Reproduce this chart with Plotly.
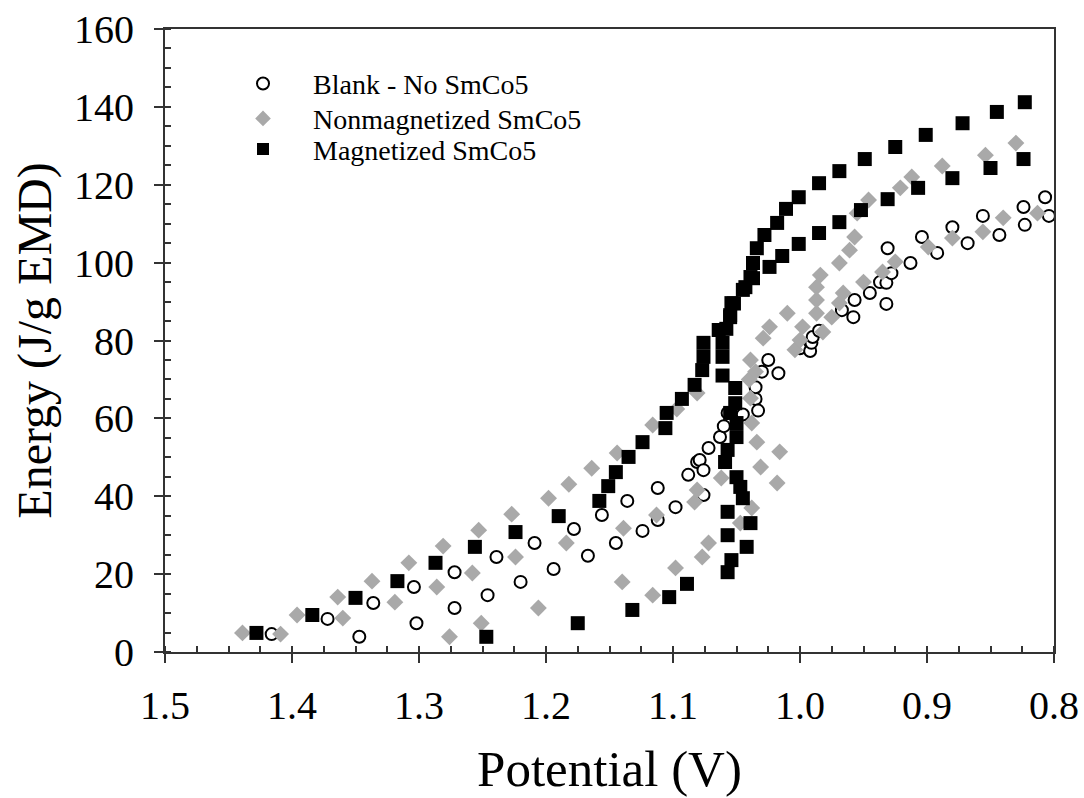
import plotly.graph_objects as go

# Blank - No SmCo5 (open circles)
blank_v = [1.416, 1.372, 1.347, 1.336, 1.304, 1.302, 1.272, 1.272, 1.246, 1.239,
           1.220, 1.209, 1.194, 1.178, 1.167, 1.156, 1.145, 1.136, 1.124, 1.112,
           1.112, 1.098, 1.088, 1.081, 1.079, 1.076, 1.076, 1.072, 1.063, 1.060,
           1.057, 1.045, 1.035, 1.035, 1.033, 1.030, 1.025, 1.017, 1.000, 0.992,
           0.991, 0.990, 0.985, 0.967, 0.958, 0.957, 0.945, 0.937, 0.932, 0.932,
           0.928, 0.931, 0.913, 0.904, 0.892, 0.880, 0.868, 0.856, 0.843, 0.824,
           0.823, 0.807, 0.804]
blank_e = [4.6, 8.5, 3.9, 12.6, 16.7, 7.4, 20.5, 11.3, 14.6, 24.4,
           18.0, 28.0, 21.3, 31.6, 24.7, 35.2, 28.0, 38.8, 31.1, 42.1,
           33.9, 37.2, 45.5, 48.8, 49.3, 46.7, 40.3, 52.4, 55.2, 58.0,
           61.4, 61.0, 65.0, 68.0, 62.0, 72.0, 75.0, 71.6, 78.0, 77.3,
           79.4, 80.9, 82.5, 87.8, 86.0, 90.4, 92.2, 95.0, 94.8, 89.4,
           97.3, 103.7, 99.9, 106.6, 102.5, 109.1, 105.0, 112.0, 107.1, 114.3,
           109.7, 116.8, 112.0]

# Nonmagnetized SmCo5 (grey diamonds)
nonmag_v = [1.439, 1.396, 1.364, 1.337, 1.308, 1.281, 1.253, 1.227, 1.198, 1.182,
            1.164, 1.144, 1.116, 1.097, 1.081,
            1.409, 1.360, 1.319, 1.286, 1.258, 1.224, 1.184, 1.139, 1.113, 1.083,
            1.081, 1.062,
            1.276, 1.251, 1.206, 1.140, 1.116, 1.098, 1.077, 1.072, 1.047, 1.038,
            1.031, 1.018, 1.016, 1.034, 1.038, 1.039, 1.040, 1.035, 1.039, 1.029,
            1.024, 1.010,
            0.987, 0.987, 0.987, 0.984, 0.969, 0.961, 0.957, 0.955, 0.946, 0.921,
            0.912, 0.888, 0.854, 0.830,
            1.004, 1.000, 0.998, 0.982, 0.975, 0.969, 0.966, 0.950, 0.935, 0.925,
            0.899, 0.880, 0.856, 0.840, 0.813]
nonmag_e = [4.9, 9.5, 14.1, 18.2, 22.9, 27.2, 31.3, 35.4, 39.5, 43.1,
            47.2, 51.1, 58.3, 62.4, 66.5,
            4.6, 8.7, 12.8, 16.7, 20.3, 24.4, 28.0, 31.8, 35.2, 38.5,
            41.6, 44.7,
            3.9, 7.4, 11.3, 18.0, 14.6, 21.6, 24.4, 28.0, 33.1, 37.0,
            47.5, 43.4, 51.4, 53.9, 58.8, 65.2, 70.0, 72.0, 75.0, 80.6,
            83.5, 87.0,
            87.0, 90.4, 93.7, 96.8, 99.9, 103.2, 106.6, 112.7, 116.1, 119.2,
            122.0, 124.8, 127.6, 130.7,
            77.6, 80.1, 83.5, 82.2, 86.0, 89.6, 92.2, 95.0, 97.6, 100.2,
            104.0, 106.3, 107.9, 111.5, 112.7]

# Magnetized SmCo5 (black squares)
mag_v = [1.428, 1.384, 1.350, 1.317, 1.287, 1.256, 1.224, 1.190, 1.158, 1.151,
         1.145, 1.135, 1.124, 1.106, 1.105, 1.093, 1.083, 1.077, 1.076, 1.076,
         1.064, 1.055, 1.054, 1.045, 1.039, 1.037, 1.034, 1.028, 1.018, 1.011,
         1.001, 0.985, 0.969, 0.949, 0.925, 0.901, 0.872, 0.845, 0.823,
         1.247, 1.175, 1.132, 1.103, 1.089, 1.057, 1.054, 1.042, 1.057, 1.039,
         1.057, 1.045, 1.047, 1.050, 1.059, 1.057, 1.050, 1.050, 1.055, 1.051,
         1.051, 1.061, 1.061, 1.061, 1.058, 1.055, 1.052, 1.043, 1.037, 1.024,
         1.014, 1.001, 0.985, 0.969, 0.952, 0.931, 0.907, 0.880, 0.850, 0.824]
mag_e = [4.9, 9.5, 13.9, 18.2, 22.9, 27.0, 30.8, 34.9, 38.8, 42.6,
         46.2, 50.1, 53.9, 57.5, 61.4, 65.0, 68.6, 72.4, 75.8, 79.4,
         82.7, 86.0, 89.6, 93.0, 96.3, 99.9, 103.7, 107.1, 110.2, 113.8,
         116.8, 120.4, 123.5, 126.6, 129.7, 132.8, 135.8, 138.7, 141.2,
         3.9, 7.4, 10.8, 14.1, 17.5, 20.5, 23.6, 27.0, 30.0, 33.1,
         36.0, 39.5, 42.4, 44.9, 48.8, 51.9, 55.2, 58.8, 61.4, 63.9,
         67.8, 71.0, 75.8, 79.4, 83.0, 86.5, 89.5, 93.7, 96.0, 98.9,
         101.7, 104.8, 107.6, 110.4, 113.5, 116.3, 119.2, 121.7, 124.3, 126.6]

x_ticks = [1.5, 1.4, 1.3, 1.2, 1.1, 1.0, 0.9, 0.8]
y_ticks = [0, 20, 40, 60, 80, 100, 120, 140, 160]

FONT = "Liberation Serif, Times New Roman, serif"
AX = "#333333"

fig = go.Figure()
fig.add_trace(go.Scatter(
    x=blank_v, y=blank_e, mode="markers", name="Blank - No SmCo5", legend="legend",
    marker=dict(symbol="circle", size=12, color="white",
                line=dict(color="black", width=2)),
))
fig.add_trace(go.Scatter(
    x=nonmag_v, y=nonmag_e, mode="markers", name="Nonmagnetized SmCo5", legend="legend2",
    marker=dict(symbol="diamond", size=13, color="#a9a9a9",
                line=dict(width=0)),
))
fig.add_trace(go.Scatter(
    x=mag_v, y=mag_e, mode="markers", name="Magnetized SmCo5", legend="legend3",
    marker=dict(symbol="square", size=14, color="black",
                line=dict(width=0)),
))

def leg(yc):
    return dict(
        x=0.054, y=yc, xanchor="left", yanchor="middle",
        bgcolor="rgba(0,0,0,0)", borderwidth=0,
        font=dict(family=FONT, size=28, color="black"),
        itemsizing="constant", itemwidth=90,
    )

fig.update_layout(
    width=1084, height=798,
    margin=dict(l=165, r=30, t=29, b=146),
    paper_bgcolor="white", plot_bgcolor="white",
    font=dict(family=FONT, color="black"),
    showlegend=True,
    legend=leg(0.912),
    legend2=leg(0.856),
    legend3=leg(0.807),
    xaxis=dict(
        range=[1.5, 0.8], tickvals=x_ticks, ticktext=[f"{v:.1f}" for v in x_ticks],
        showgrid=False, zeroline=False, automargin=False,
        showline=True, linecolor=AX, linewidth=2, mirror=True,
        ticks="outside", ticklen=9, tickwidth=2, tickcolor=AX,
        ticklabelstandoff=8,
        tickfont=dict(family=FONT, size=40, color="black"),
        title=dict(text="Potential (V)", font=dict(family=FONT, size=51, color="black"),
                   standoff=23),
        minor=dict(dtick=0.025, ticks="inside", ticklen=6, tickwidth=1.5,
                   tickcolor=AX, showgrid=False),
    ),
    yaxis=dict(
        range=[0, 160], tickvals=y_ticks,
        showgrid=False, zeroline=False, automargin=False,
        showline=True, linecolor=AX, linewidth=2, mirror=True,
        ticks="outside", ticklen=9, tickwidth=2, tickcolor=AX,
        ticklabelstandoff=12,
        tickfont=dict(family=FONT, size=40, color="black"),
        title=dict(text="Energy (J/g EMD)", font=dict(family=FONT, size=48, color="black"),
                   standoff=7),
        minor=dict(dtick=5, ticks="inside", ticklen=6, tickwidth=1.5,
                   tickcolor=AX, showgrid=False),
    ),
    xaxis2=dict(
        overlaying="x", anchor="y", side="bottom", range=[1.5, 0.8], automargin=False,
        tickvals=x_ticks, showticklabels=False, showgrid=False, zeroline=False,
        showline=False, ticks="inside", ticklen=9, tickwidth=2, tickcolor=AX,
    ),
    yaxis2=dict(
        overlaying="y", anchor="x", side="left", range=[0, 160], automargin=False,
        tickvals=y_ticks, showticklabels=False, showgrid=False, zeroline=False,
        showline=False, ticks="inside", ticklen=9, tickwidth=2, tickcolor=AX,
    ),
)

fig.write_html("out.html")
